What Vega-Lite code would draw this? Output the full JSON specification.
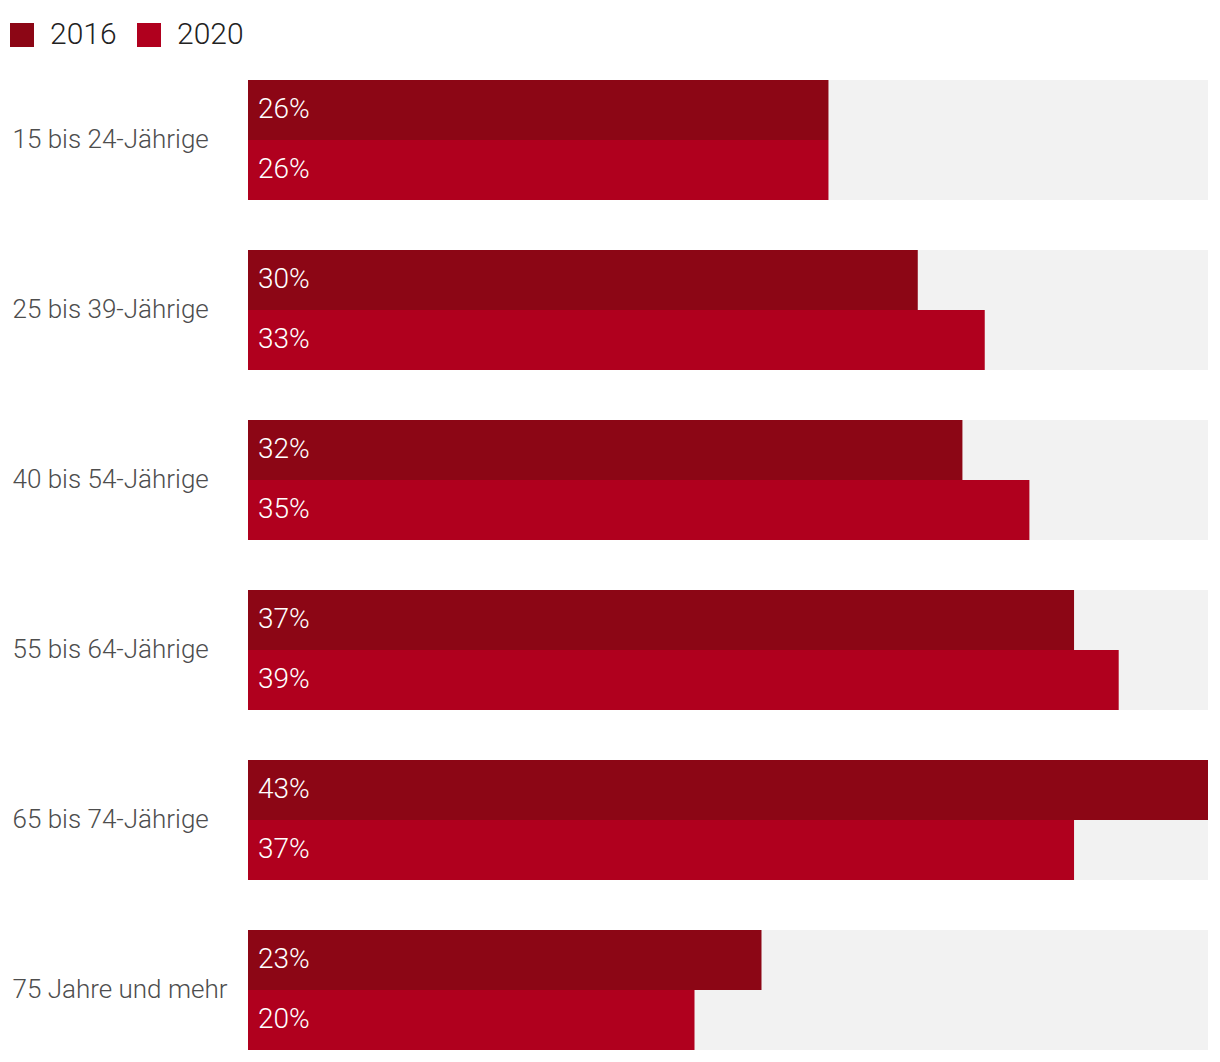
{
  "$schema": "https://vega.github.io/schema/vega-lite/v6.json",
  "autosize": "none",
  "width": 960,
  "height": 970,
  "padding": {"left": 248, "top": 80, "right": 12, "bottom": 12},
  "background": "white",
  "config": {"view": {"stroke": null}, "font": "Roboto"},
  "data": {"values": [
    {"group": "15 bis 24-Jährige", "year": "2016", "value": 0.26},
    {"group": "15 bis 24-Jährige", "year": "2020", "value": 0.26},
    {"group": "25 bis 39-Jährige", "year": "2016", "value": 0.30},
    {"group": "25 bis 39-Jährige", "year": "2020", "value": 0.33},
    {"group": "40 bis 54-Jährige", "year": "2016", "value": 0.32},
    {"group": "40 bis 54-Jährige", "year": "2020", "value": 0.35},
    {"group": "55 bis 64-Jährige", "year": "2016", "value": 0.37},
    {"group": "55 bis 64-Jährige", "year": "2020", "value": 0.39},
    {"group": "65 bis 74-Jährige", "year": "2016", "value": 0.43},
    {"group": "65 bis 74-Jährige", "year": "2020", "value": 0.37},
    {"group": "75 Jahre und mehr", "year": "2016", "value": 0.23},
    {"group": "75 Jahre und mehr", "year": "2020", "value": 0.20}
  ]},
  "encoding": {
    "y": {
      "field": "group", "type": "nominal", "sort": null,
      "scale": {"paddingInner": 0.294118, "paddingOuter": 0},
      "axis": {"title": null, "ticks": false, "domain": false, "labelAlign": "left", "labelPadding": 236, "labelFontSize": 26, "labelColor": "#4d4d4d", "labelFont": "Roboto", "labelFontWeight": 300, "labelLimit": 400}
    }
  },
  "layer": [
    {
      "mark": {"type": "bar", "color": "#f2f2f2"},
      "encoding": {
        "x": {"datum": 0.43, "type": "quantitative", "scale": {"domain": [0, 0.43], "nice": false, "zero": true}, "axis": null}
      }
    },
    {
      "mark": {"type": "bar"},
      "encoding": {
        "x": {"field": "value", "type": "quantitative", "scale": {"domain": [0, 0.43], "nice": false}, "axis": null},
        "yOffset": {"field": "year", "type": "nominal", "scale": {"paddingInner": 0, "paddingOuter": 0}},
        "color": {
          "field": "year", "type": "nominal",
          "scale": {"domain": ["2016", "2020"], "range": ["#8c0615", "#b0001e"]},
          "legend": {"title": null, "orient": "none", "legendX": -241, "legendY": -60, "direction": "horizontal", "symbolType": "square", "symbolSize": 576, "symbolStrokeWidth": 0, "symbolOpacity": 1, "labelFontSize": 30, "labelColor": "#222222", "labelFont": "Roboto", "labelFontWeight": 300, "labelOffset": 13, "columnPadding": 17}
        }
      }
    },
    {
      "mark": {"type": "text", "align": "left", "baseline": "middle", "dx": 10, "color": "white", "fontSize": 28, "font": "Roboto", "fontWeight": 300},
      "encoding": {
        "x": {"datum": 0, "type": "quantitative"},
        "yOffset": {"field": "year", "type": "nominal"},
        "text": {"field": "value", "type": "quantitative", "format": ".0%"}
      }
    }
  ]
}
